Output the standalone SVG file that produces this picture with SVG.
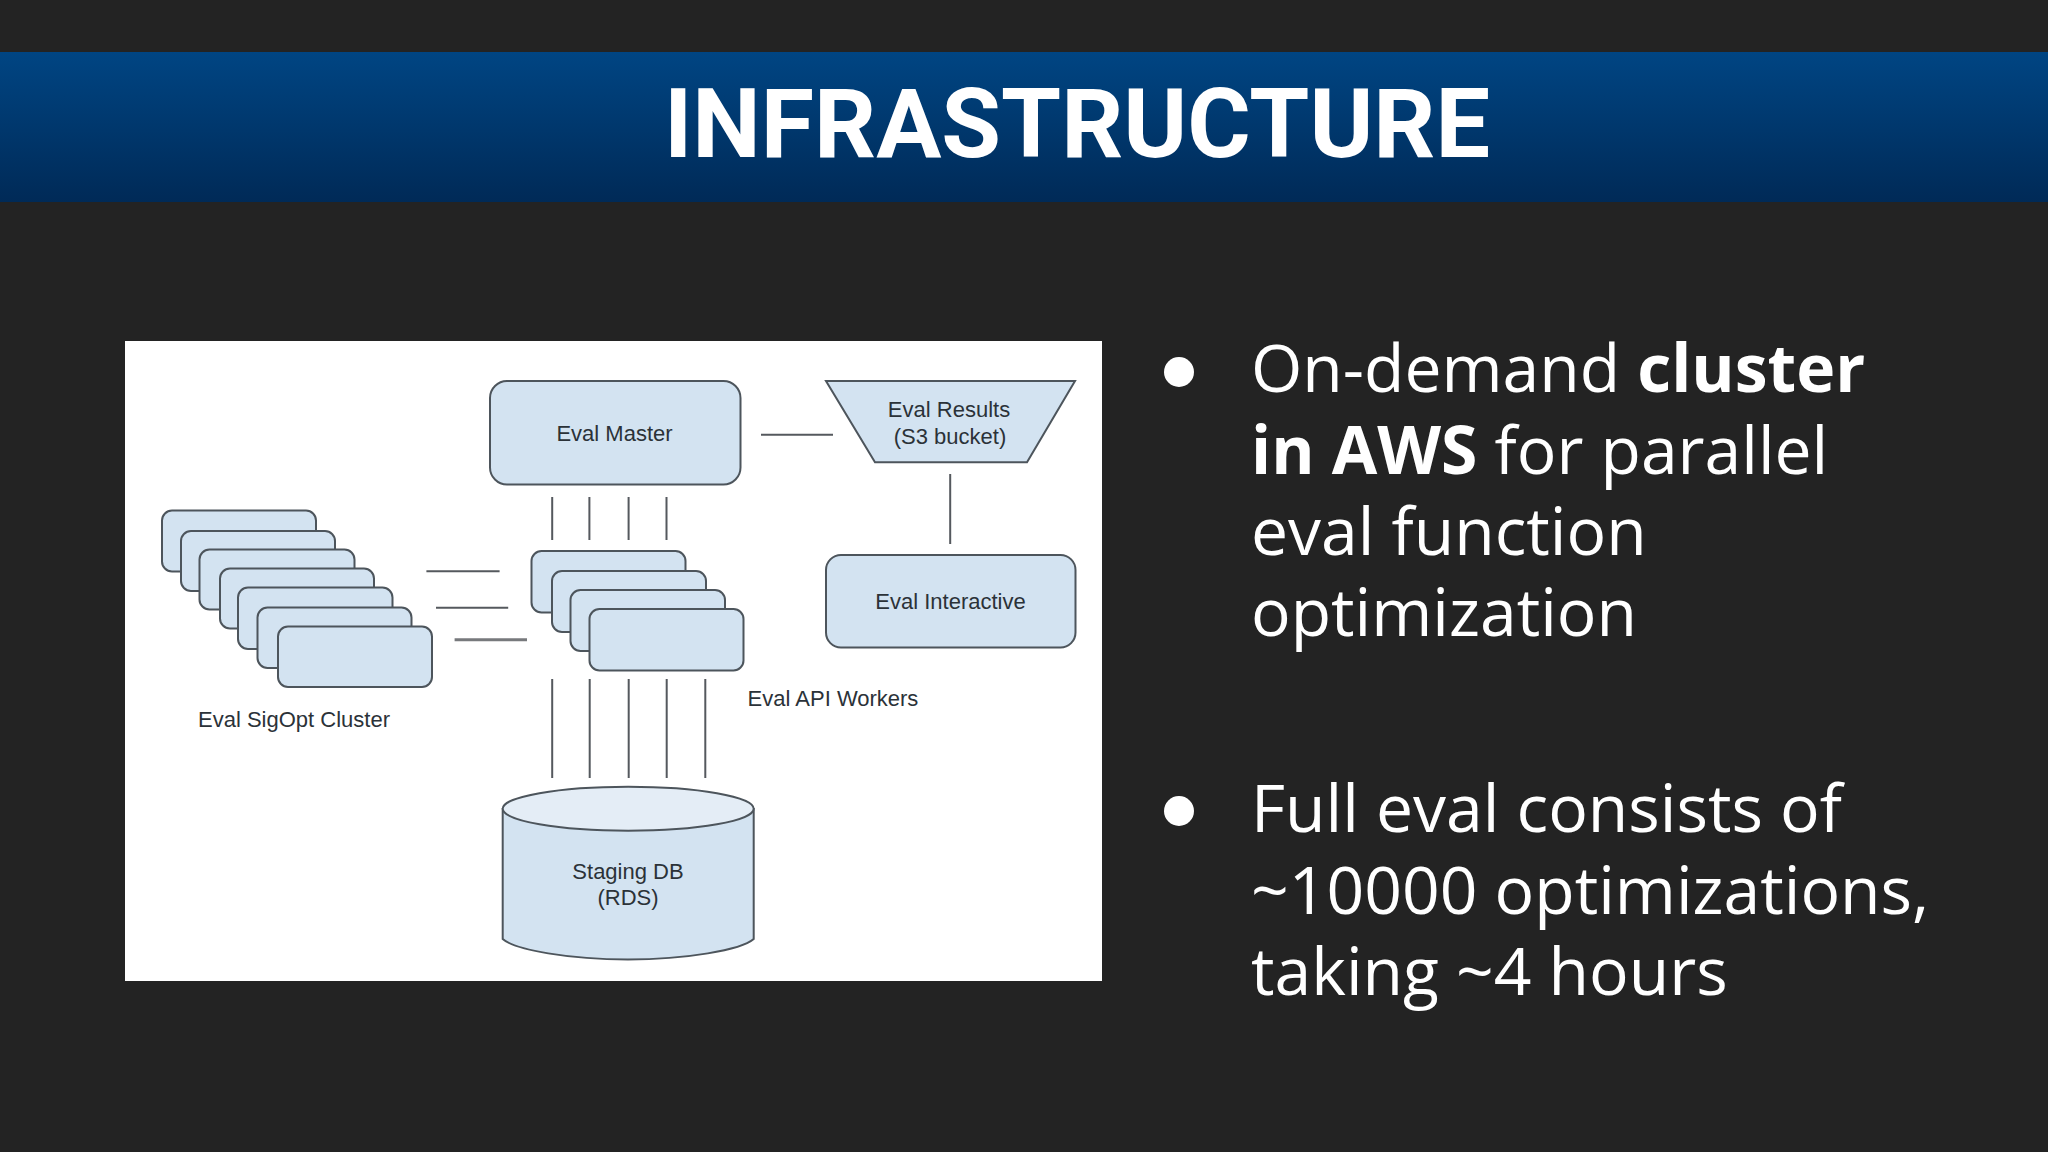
<svg xmlns="http://www.w3.org/2000/svg" width="2048" height="1152" viewBox="0 0 2048 1152">
<style>
.n{fill:#d3e3f1;stroke:#4d555c;stroke-width:2}
.c{stroke:#55595e;stroke-width:2;fill:none}
.t{font-family:"Liberation Sans",Arial,sans-serif;font-size:22px;fill:#2b3238;text-anchor:middle}
.b{font-family:"Open Sans",sans-serif;font-size:66px;fill:#fff}
.s{font-weight:700}
</style>
<defs><linearGradient id="g" x1="0" y1="0" x2="0" y2="1"><stop offset="0" stop-color="#004583"/><stop offset="1" stop-color="#002a57"/></linearGradient></defs>
<rect width="2048" height="1152" fill="#232323"/>
<rect id="band" x="0" y="52" width="2048" height="150" fill="url(#g)"/>
<text x="1077" y="157" text-anchor="middle" style="font-family:Roboto,sans-serif;font-weight:700;font-size:97px;fill:#fff">INFRASTRUCTURE</text>
<rect id="panel" x="125" y="341" width="977" height="640" fill="#fff"/>
<g id="connectors">
<path class="c" d="M761 434.700H833M950.200 474V544M552.200 497V540M589.400 497V540M628.600 497V540M666.500 497V540M552.200 679V778M589.700 679V778M628.700 679V778M666.700 679V778M705.300 679V778M426.400 571.300H499.600M436 607.700H508.200"/>
<path class="c" stroke-width="3" style="stroke:#77797c;stroke-width:3" d="M454.600 639.700H527"/>
</g>
<g id="eval-master"><rect class="n" x="490" y="381" width="250.500" height="103.500" rx="17"/><text class="t" x="614.500" y="441">Eval Master</text></g>
<g id="eval-results"><path class="n" d="M826 381H1075L1027 462.300H875Z"/><text class="t" x="949" y="417">Eval Results</text><text class="t" x="950" y="444">(S3 bucket)</text></g>
<g id="eval-interactive"><rect class="n" x="826" y="555" width="249.500" height="92.500" rx="15"/><text class="t" x="950.500" y="609">Eval Interactive</text></g>
<g id="eval-sigopt-cluster">
<rect class="n" x="162" y="510.500" width="154" height="61" rx="10"/>
<rect class="n" x="181" y="531" width="154" height="60" rx="10"/>
<rect class="n" x="199.500" y="549.500" width="155" height="60" rx="10"/>
<rect class="n" x="220" y="568.500" width="154" height="60" rx="10"/>
<rect class="n" x="238" y="587.500" width="154.500" height="61.500" rx="10"/>
<rect class="n" x="257.500" y="607.500" width="154" height="60.500" rx="10"/>
<rect class="n" x="278" y="626.500" width="154" height="60.500" rx="10"/>
<text class="t" x="294" y="727">Eval SigOpt Cluster</text>
</g>
<g id="eval-api-workers">
<rect class="n" x="531.500" y="551" width="154" height="61.500" rx="10"/>
<rect class="n" x="552" y="571" width="154" height="61" rx="10"/>
<rect class="n" x="570.500" y="590" width="154.500" height="61" rx="10"/>
<rect class="n" x="589.500" y="609" width="154" height="61.500" rx="10"/>
<text class="t" x="833" y="706">Eval API Workers</text>
</g>
<g id="staging-db">
<path class="n" d="M502.700 809V939C515 950 570 959.500 628 959.500S741 950 753.700 939V809Z"/>
<ellipse cx="628.200" cy="808.700" rx="125.500" ry="22" fill="#e4edf6" stroke="#4d555c" stroke-width="2"/>
<text class="t" x="628" y="879">Staging DB</text><text class="t" x="628" y="905">(RDS)</text>
</g>
<g id="bullets">
<circle cx="1179" cy="372" r="15" fill="#fff"/>
<text class="b"><tspan x="1251" y="392">On-demand <tspan class="s">cluster</tspan></tspan><tspan x="1251" y="473.500"><tspan class="s">in AWS</tspan> for parallel</tspan><tspan x="1251" y="555">eval function</tspan><tspan x="1251" y="636">optimization</tspan></text>
<circle cx="1179" cy="811" r="15" fill="#fff"/>
<text class="b"><tspan x="1251" y="832">Full eval consists of</tspan><tspan x="1251" y="913.500">~10000 optimizations,</tspan><tspan x="1251" y="995">taking ~4 hours</tspan></text>
</g>
</svg>
